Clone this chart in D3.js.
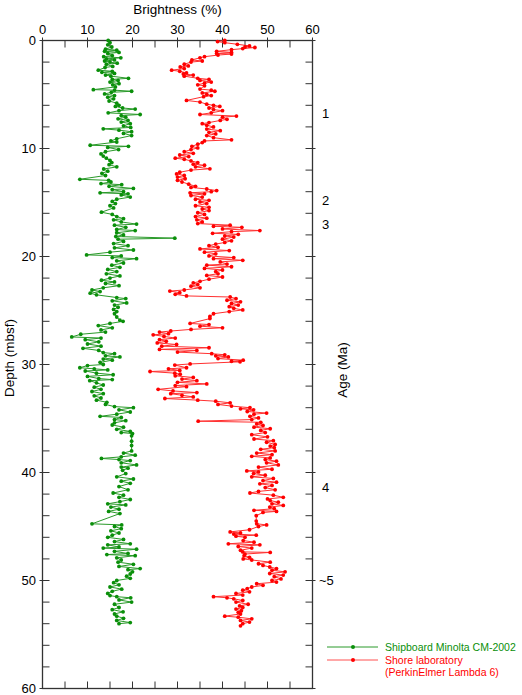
<!DOCTYPE html>
<html><head><meta charset="utf-8">
<script src="https://cdn.jsdelivr.net/npm/d3@7"></script>
<style>body{margin:0;background:#fff;} text{font-family:"Liberation Sans",Arial,Helvetica,sans-serif;}</style>
</head><body><svg id="c" width="522" height="695"></svg>
<script>
// Shipboard Minolta CM-2002 (green): depth (mbsf), brightness (%)
const shipDepth = [0.0,0.2,0.4,0.6,0.8,0.9,1.0,1.1,1.2,1.4,1.5,1.6,1.7,1.8,1.9,2.0,2.1,2.2,2.4,2.5,2.75,2.85,2.95,3.05,3.2,3.3,3.5,3.6,3.7,3.85,4.0,4.1,4.3,4.55,4.6,4.7,4.8,4.95,5.1,5.25,5.4,5.6,5.8,6.0,6.1,6.25,6.35,6.5,6.7,6.85,6.95,7.1,7.25,7.4,7.55,7.7,7.9,8.05,8.18,8.3,8.45,8.6,8.8,9.1,9.3,9.4,9.7,9.8,9.9,10.1,10.3,10.5,10.7,10.9,11.1,11.3,11.5,11.7,11.9,12.1,12.3,12.5,12.85,12.95,13.1,13.25,13.35,13.5,13.7,13.8,14.0,14.1,14.2,14.3,14.5,14.7,14.9,15.1,15.3,15.5,15.9,16.1,16.3,16.5,16.6,16.8,17.0,17.1,17.3,17.5,17.6,17.8,18.0,18.15,18.3,18.4,18.6,18.8,19.0,19.2,19.4,19.6,19.85,19.95,20.1,20.2,20.4,20.6,20.8,21.0,21.2,21.4,21.6,21.8,22.0,22.2,22.35,22.5,22.7,22.9,23.1,23.25,23.4,23.55,23.8,23.9,24.1,24.3,24.5,24.7,24.9,25.1,25.3,25.6,25.9,26.0,26.2,26.4,26.6,26.8,27.0,27.2,27.45,27.55,27.7,27.9,28.1,28.3,28.5,28.7,28.9,29.0,29.2,29.3,29.5,29.6,29.8,30.0,30.1,30.3,30.4,30.5,30.6,30.8,30.95,31.1,31.3,31.4,31.5,31.7,31.9,32.1,32.3,32.5,32.7,32.9,33.1,33.3,33.5,33.7,33.9,34.0,34.2,34.4,34.6,34.8,34.9,35.1,35.2,35.4,35.6,35.8,36.0,36.2,36.3,36.4,36.6,37.1,37.5,38.0,38.2,38.4,38.55,38.7,38.8,38.9,39.1,39.3,39.5,39.6,39.8,40.1,40.4,40.6,40.8,41.0,41.3,41.6,41.9,42.1,42.3,42.5,42.7,42.9,43.0,43.2,43.4,43.6,43.8,44.75,44.85,45.0,45.2,45.4,45.6,45.8,46.0,46.2,46.4,46.6,46.7,46.9,47.0,47.1,47.3,47.5,47.6,47.7,47.9,48.1,48.3,48.5,48.7,48.9,49.0,49.2,49.4,49.6,49.8,50.0,50.2,50.4,50.6,50.8,51.0,51.2,51.4,51.5,51.6,51.8,52.0,52.2,52.5,52.7,52.9,53.1,53.3,53.5,53.7,53.9,54.0];
const shipBrightness = [14.6,15.0,14.5,15.4,14.0,16.5,13.8,17.0,14.5,15.5,13.6,17.4,14.2,16.0,13.8,15.0,16.6,14.2,15.6,13.9,12.4,15.5,13.2,16.0,14.0,15.2,19.1,15.5,16.8,15.0,17.0,15.6,16.2,11.3,16.0,19.8,15.3,13.8,16.0,14.5,15.8,14.8,16.5,17.0,16.2,17.8,20.6,17.0,14.6,21.7,17.5,18.5,16.8,19.0,17.5,19.5,18.0,19.6,13.5,17.0,19.8,18.0,19.8,16.5,15.2,16.5,10.6,19.1,14.5,16.9,14.0,13.0,13.5,14.2,15.0,15.4,14.8,16.5,13.6,14.5,13.2,14.0,8.3,14.7,15.2,13.0,17.6,14.8,20.2,15.5,18.0,12.8,19.0,17.5,19.5,16.5,15.5,16.2,15.0,15.8,13.1,15.5,16.5,18.0,15.8,17.5,20.9,16.0,18.5,16.5,20.6,16.5,18.0,16.3,29.4,16.8,18.0,15.8,19.0,16.0,20.2,15.0,9.8,17.5,15.5,20.9,16.5,18.0,15.4,17.2,14.5,16.5,14.2,17.2,15.0,13.1,16.0,14.0,17.0,13.5,11.0,12.8,10.6,12.0,16.5,18.5,15.5,18.7,16.0,16.8,15.8,16.5,16.0,16.5,17.2,17.9,15.0,12.4,15.5,13.0,14.0,8.5,6.5,13.0,9.5,12.5,10.0,13.0,9.0,12.5,13.5,16.0,14.0,17.2,13.5,15.5,12.8,13.5,10.0,8.3,11.5,14.5,9.5,12.0,15.7,10.0,12.5,15.5,10.5,12.0,13.5,11.5,13.0,11.0,13.5,11.5,13.0,12.0,14.3,14.0,16.0,20.2,17.0,19.5,16.5,12.8,17.5,16.0,18.5,16.0,15.5,18.0,16.5,19.5,17.5,20.0,19.8,19.8,19.8,19.8,18.0,20.6,17.5,13.1,17.0,19.5,17.5,20.9,17.5,19.0,17.8,18.5,16.5,20.2,17.5,19.5,17.0,19.0,15.7,18.0,17.0,19.5,17.2,14.5,18.5,15.2,17.0,14.7,17.2,11.0,17.6,16.0,17.5,15.2,17.0,15.5,14.5,18.0,16.0,19.5,14.5,17.0,13.5,20.9,16.0,19.0,14.3,20.6,16.5,17.5,16.8,20.2,17.0,21.7,19.0,20.0,19.5,18.7,19.5,16.5,15.8,17.0,15.0,17.6,15.5,14.5,15.0,16.5,19.6,17.0,19.8,16.0,17.0,15.5,17.9,16.0,16.5,18.0,16.5,19.5,17.0];

// Shore laboratory, PerkinElmer Lambda 6 (red)
const shoreDepth = [0.0,0.1,0.2,0.35,0.5,0.6,0.65,0.75,0.85,1.0,1.1,1.2,1.25,1.35,1.5,1.6,1.8,1.9,2.0,2.2,2.35,2.45,2.6,2.75,2.85,3.0,3.1,3.2,3.3,3.5,3.6,3.7,3.85,3.95,4.1,4.2,4.5,4.6,4.7,4.85,5.0,5.1,5.2,5.55,5.7,5.9,6.0,6.1,6.25,6.4,6.5,6.7,6.85,7.0,7.1,7.3,7.4,7.6,7.7,7.85,8.0,8.2,8.35,8.5,8.65,8.8,9.0,9.2,9.3,9.45,9.6,9.8,9.95,10.1,10.3,10.45,10.6,10.75,10.9,11.0,11.15,11.3,11.45,11.55,11.7,11.88,12.0,12.2,12.35,12.5,12.65,12.8,12.95,13.1,13.3,13.5,13.6,13.75,13.9,14.0,14.1,14.2,14.35,14.5,14.7,14.8,14.95,15.1,15.3,15.45,15.6,15.75,15.95,16.1,16.3,16.45,16.6,16.8,16.95,17.1,17.2,17.3,17.45,17.6,17.7,17.85,17.95,18.1,18.2,18.4,18.55,18.7,18.85,19.0,19.15,19.3,19.45,19.6,19.75,19.95,20.1,20.2,20.35,20.5,20.7,20.8,20.95,21.1,21.25,21.4,21.6,21.75,21.9,22.1,22.3,22.45,22.6,22.75,22.9,23.1,23.2,23.35,23.5,23.65,23.75,23.9,24.05,24.2,24.35,24.5,24.65,24.8,24.95,25.1,25.3,25.55,25.75,26.2,26.3,26.45,26.6,26.75,26.9,27.0,27.15,27.25,27.4,27.55,27.7,27.85,28.0,28.15,28.3,28.45,28.6,28.7,28.85,29.0,29.1,29.2,29.3,29.45,29.6,29.7,29.75,29.95,30.05,30.3,30.4,30.55,30.65,30.8,30.9,31.05,31.2,31.35,31.5,31.65,31.8,31.95,32.05,32.3,32.45,32.6,32.7,32.85,33.0,33.15,33.3,33.4,33.55,33.7,33.85,34.0,34.1,34.2,34.35,34.5,34.6,34.8,34.95,35.1,35.25,35.35,35.5,35.65,35.8,35.95,36.1,36.3,36.5,36.7,36.9,37.05,37.2,37.4,37.55,37.7,37.85,38.0,38.2,38.35,38.5,38.65,38.8,38.95,39.1,39.3,39.5,39.7,39.85,39.95,40.1,40.25,40.4,40.55,40.75,40.9,41.05,41.2,41.4,41.6,41.75,41.9,42.1,42.3,42.45,42.6,42.75,42.9,43.05,43.2,43.35,43.5,43.6,43.7,44.0,44.5,44.75,44.85,45.0,45.3,45.5,45.6,45.7,45.8,45.9,46.0,46.3,46.45,46.6,46.7,46.85,47.0,47.2,47.35,47.4,47.55,47.7,47.85,48.0,48.1,48.3,48.45,48.6,48.75,48.9,49.05,49.2,49.35,49.5,49.65,49.85,50.0,50.15,50.3,50.45,50.6,50.75,50.9,51.05,51.2,51.35,51.5,51.6,51.7,51.85,52.0,52.2,52.35,52.5,52.65,52.8,52.95,53.1,53.3,53.4,53.55,53.7,53.85,54.0,54.2];
const shoreBrightness = [40.5,38.9,40.5,43.3,46.0,45.0,47.2,44.5,42.0,38.7,42.0,38.7,42.0,39.0,36.0,35.0,33.2,35.5,33.0,31.5,32.4,30.6,31.5,28.7,30.5,32.0,31.3,33.5,31.5,34.5,37.0,35.0,37.5,36.0,34.5,36.0,35.0,37.5,38.3,35.5,36.5,37.5,35.8,32.0,35.0,36.5,38.0,39.4,37.0,38.0,40.0,37.5,35.0,43.1,40.0,41.0,39.5,37.0,35.5,36.5,38.0,36.5,39.5,37.0,38.5,36.5,38.0,42.0,36.0,35.5,34.5,33.2,34.5,33.0,31.5,33.5,30.5,32.5,29.5,31.5,33.0,34.5,33.5,36.0,34.0,37.2,33.0,30.5,29.8,31.5,30.0,31.7,30.0,31.0,32.5,34.0,33.0,36.5,38.7,37.5,32.8,36.0,33.0,35.5,34.0,37.0,35.0,36.5,34.0,37.0,35.5,37.0,34.5,36.0,34.0,36.5,34.3,35.5,34.5,41.7,38.0,44.3,40.0,48.3,42.0,37.8,43.5,40.5,42.5,40.0,42.0,40.5,38.5,37.0,39.0,35.0,41.5,36.0,38.5,37.0,42.5,38.0,44.5,39.5,41.0,36.5,42.0,36.0,40.0,38.5,39.0,36.5,40.0,37.0,35.0,33.5,34.5,33.0,35.0,31.5,28.3,30.5,29.5,32.0,41.7,43.0,41.0,44.0,42.0,43.5,41.5,42.5,44.5,41.5,38.0,37.2,37.2,32.8,37.0,35.0,40.0,33.0,28.5,26.0,28.0,24.6,27.0,29.5,26.0,27.5,25.5,29.8,26.5,37.0,26.0,34.3,30.0,37.6,40.5,38.5,41.3,39.0,44.6,42.0,43.9,32.8,29.4,32.0,28.0,30.5,23.9,29.4,30.6,29.5,33.5,31.0,34.3,30.0,36.5,29.5,32.0,25.7,29.0,34.3,28.5,31.0,33.5,27.2,34.5,38.5,41.7,39.0,42.0,46.1,44.0,46.9,45.5,49.8,47.0,46.1,48.0,46.5,34.6,48.5,47.6,49.0,47.0,50.6,48.5,49.5,46.5,50.0,47.0,51.3,49.8,51.7,50.6,51.5,48.5,51.7,47.6,51.0,46.5,50.6,49.5,52.0,49.8,52.4,48.0,51.0,45.4,48.0,46.9,49.5,46.5,51.3,49.0,52.0,48.3,51.0,49.5,51.7,48.0,46.1,51.3,53.5,50.0,50.6,52.4,51.0,53.5,50.5,51.5,47.0,52.0,49.0,47.5,47.5,47.6,49.8,48.0,46.0,41.7,44.0,42.5,47.5,43.0,45.0,44.6,47.0,41.3,48.3,43.5,46.5,44.0,44.5,50.6,45.0,44.8,46.0,44.6,46.5,50.6,48.0,49.0,50.5,52.0,51.0,53.9,50.5,53.5,51.5,53.0,51.0,52.0,47.6,49.0,46.5,45.5,44.5,46.0,43.0,44.5,38.0,41.0,42.5,44.5,43.0,45.7,43.8,44.5,43.0,44.2,43.5,44.0,40.5,43.5,46.5,44.0,46.0,44.5,44.0];

const xTickValues = [0,10,20,30,40,50,60];
const yTickValues = [0,10,20,30,40,50,60];
const ageDepths = [6.76,14.8,17.0,41.4,50.0];
const ageLabels = ["1","2","3","4","~5"];
const seriesNames = ["Shipboard Minolta CM-2002","Shore laboratory","(PerkinElmer Lambda 6)"];

const svg = d3.select("#c");
const L=42.5, R=312.5, T=40.5, B=688.5;
const x = d3.scaleLinear().domain([0,60]).range([L,R]);
const y = d3.scaleLinear().domain([0,60]).range([T,B]);
const axisCol="#333";

// frame
svg.append("rect").attr("x",L).attr("y",T).attr("width",R-L).attr("height",B-T)
  .attr("fill","none").attr("stroke",axisCol).attr("stroke-width",1.3);

// ticks: top & bottom every 5
const xt = d3.range(0,61,5);
xt.forEach(v=>{
  const major = v%10===0;
  svg.append("line").attr("x1",x(v)).attr("x2",x(v)).attr("y1",T-(major?3:0)).attr("y2",T+7).attr("stroke",axisCol);
  svg.append("line").attr("x1",x(v)).attr("x2",x(v)).attr("y1",B).attr("y2",B-7).attr("stroke",axisCol);
});
// left & right every 2
const yt = d3.range(0,61,2);
yt.forEach(v=>{
  const major = v%10===0;
  svg.append("line").attr("y1",y(v)).attr("y2",y(v)).attr("x1",L-(major?3:0)).attr("x2",L+7).attr("stroke",axisCol);
  svg.append("line").attr("y1",y(v)).attr("y2",y(v)).attr("x1",R+(major?3:0)).attr("x2",R-7).attr("stroke",axisCol);
});

// tick labels
svg.selectAll(".xl").data(xTickValues).enter().append("text")
  .attr("x",d=>x(d)).attr("y",34).attr("text-anchor","middle").attr("font-size",13).text(d=>d);
svg.selectAll(".yl").data(yTickValues).enter().append("text")
  .attr("x",36).attr("y",d=>y(d)+4.5).attr("text-anchor","end").attr("font-size",13).text(d=>d);

// axis titles
svg.append("text").attr("x",(L+R)/2).attr("y",14).attr("text-anchor","middle").attr("font-size",13.5).text("Brightness (%)");
svg.append("text").attr("transform",`translate(14,358) rotate(-90)`).attr("text-anchor","middle").attr("font-size",13.5).text("Depth (mbsf)");
svg.append("text").attr("transform",`translate(347,370) rotate(-90)`).attr("text-anchor","middle").attr("font-size",13.5).text("Age (Ma)");

// age labels
svg.selectAll(".al").data(ageDepths).enter().append("text")
  .attr("x",(d,i)=>ageLabels[i].length>1?319:322).attr("y",d=>y(d)+4.5).attr("font-size",13).text((d,i)=>ageLabels[i]);

function drawSeries(depths, vals, lineCol, dotCol){
  const pts = depths.map((d,i)=>[vals[i],d]);
  const line = d3.line().x(p=>x(p[0])).y(p=>y(p[1]));
  svg.append("path").datum(pts).attr("d",line).attr("fill","none").attr("stroke",lineCol).attr("stroke-width",1);
  svg.append("g").selectAll("circle").data(pts).enter().append("circle")
    .attr("cx",p=>x(p[0])).attr("cy",p=>y(p[1])).attr("r",1.9).attr("fill",dotCol);
}
drawSeries(shipDepth, shipBrightness, "#2a9a2a", "#0a8f0a");
drawSeries(shoreDepth, shoreBrightness, "#ff3030", "#ff0000");

// legend
const lg = svg.append("g");
[[647,"#2a9a2a","#0a8f0a"],[660,"#ff5050","#ff0000"]].forEach((r,i)=>{
  lg.append("line").attr("x1",327).attr("x2",378).attr("y1",r[0]).attr("y2",r[0]).attr("stroke",r[1]).attr("stroke-width",1);
  lg.append("circle").attr("cx",353).attr("cy",r[0]).attr("r",2).attr("fill",r[2]);
});
lg.append("text").attr("x",385).attr("y",651).attr("font-size",10.5).attr("fill","#0a8f0a").text(seriesNames[0]);
lg.append("text").attr("x",385).attr("y",664).attr("font-size",10.5).attr("fill","#ff0000").text(seriesNames[1]);
lg.append("text").attr("x",385).attr("y",675.5).attr("font-size",10.5).attr("fill","#ff0000").text(seriesNames[2]);
</script></body></html>
